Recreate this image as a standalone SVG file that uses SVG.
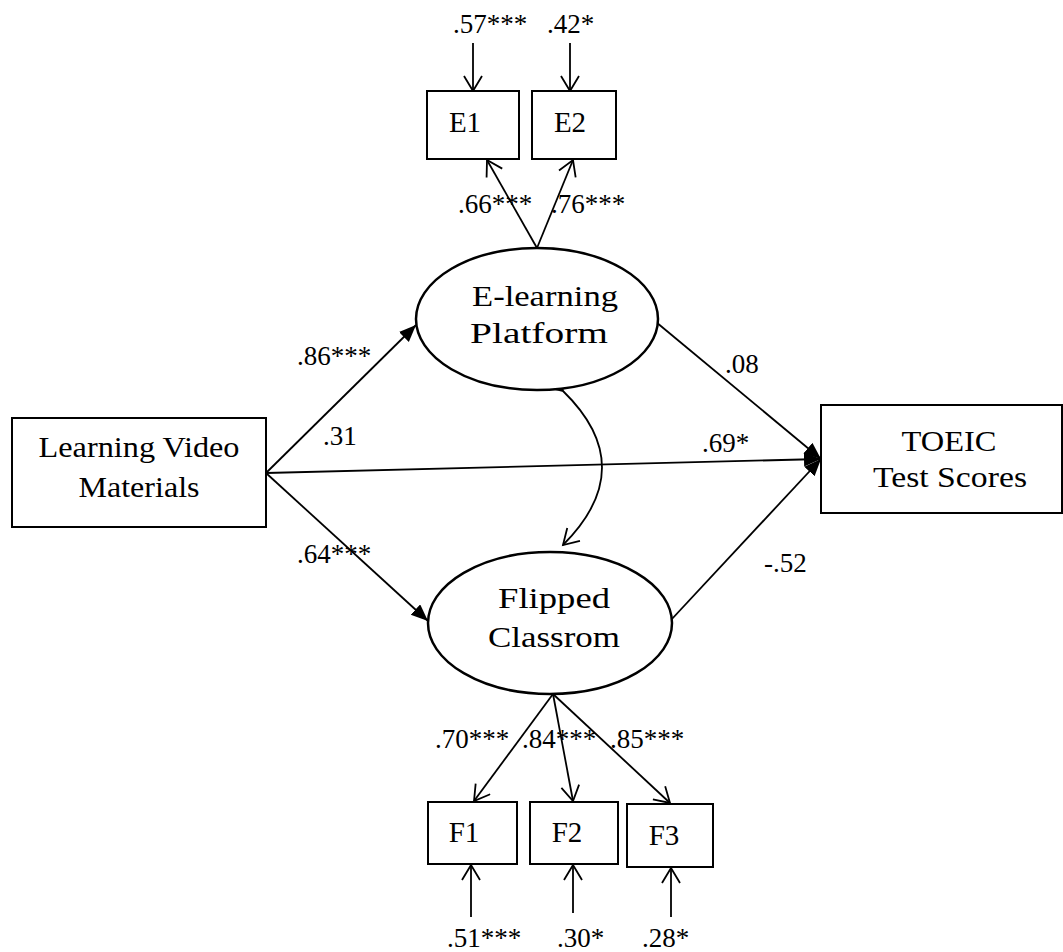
<svg xmlns="http://www.w3.org/2000/svg" width="1063" height="952" viewBox="0 0 1063 952">
  <style>
    .box { fill: #ffffff; stroke: #000000; stroke-width: 2; }
    .ell { fill: #ffffff; stroke: #000000; stroke-width: 2.5; }
    .lbl { font-family: "Liberation Serif", "Times New Roman", serif; font-size: 29px; fill: #000000; text-anchor: middle; }
    .num { font-family: "Liberation Serif", "Times New Roman", serif; font-size: 27px; fill: #000000; }
    .path { fill: none; stroke: #000000; stroke-width: 1.8; }
    .fpath { fill: none; stroke: #000000; stroke-width: 1.8; marker-end: url(#filled); }
    .opath { fill: none; stroke: #000000; stroke-width: 1.8; marker-end: url(#open); }
  </style>
  <defs>
    <marker id="filled" markerUnits="userSpaceOnUse" markerWidth="18" markerHeight="16" refX="17" refY="7" orient="auto">
      <path d="M0,0 L17,7 L0,14 Z" fill="#000000"/>
    </marker>
    <marker id="open" markerUnits="userSpaceOnUse" markerWidth="20" markerHeight="22" refX="16" refY="10" orient="auto">
      <path d="M1,1 L16,10 L1,19" fill="none" stroke="#000000" stroke-width="1.8"/>
    </marker>
  </defs>

  <rect width="1063" height="952" fill="#ffffff"/>

  <g id="connectors">
    <!-- error terms -->
    <line class="opath" x1="473" y1="43" x2="473" y2="91"/>
    <line class="opath" x1="570" y1="43" x2="570" y2="91"/>
    <line class="opath" x1="471" y1="917" x2="471" y2="865"/>
    <line class="opath" x1="573" y1="913" x2="573" y2="865"/>
    <line class="opath" x1="671" y1="917" x2="671" y2="868"/>
    <!-- loadings -->
    <line class="opath" x1="537" y1="248" x2="487" y2="160"/>
    <line class="opath" x1="537" y1="248" x2="573" y2="160"/>
    <line class="opath" x1="553" y1="694" x2="474" y2="801"/>
    <line class="opath" x1="553" y1="694" x2="573" y2="801"/>
    <line class="opath" x1="553" y1="694" x2="670" y2="803"/>
    <!-- structural paths -->
    <line class="fpath" x1="266" y1="473" x2="416" y2="325"/>
    <line class="fpath" x1="266" y1="473" x2="428" y2="621"/>
    <line class="fpath" x1="266" y1="473" x2="821" y2="459"/>
    <line class="fpath" x1="656" y1="322" x2="821" y2="459"/>
    <line class="fpath" x1="671" y1="620" x2="821" y2="459"/>
    <!-- covariance -->
    <path class="opath" d="M 563 391 Q 641 467 563 545" style="marker-start: url(#open)" />
  </g>

  <g id="LVM">
    <rect class="box" x="12" y="418" width="254" height="109"/>
    <text class="lbl" x="139" y="457" textLength="201" lengthAdjust="spacingAndGlyphs">Learning Video</text>
    <text class="lbl" x="139" y="497" textLength="121" lengthAdjust="spacingAndGlyphs">Materials</text>
  </g>

  <g id="TOEIC">
    <rect class="box" x="821" y="405" width="241" height="108"/>
    <text class="lbl" x="949" y="451" textLength="95" lengthAdjust="spacingAndGlyphs">TOEIC</text>
    <text class="lbl" x="950" y="487" textLength="154" lengthAdjust="spacingAndGlyphs">Test Scores</text>
  </g>

  <g id="Elearning">
    <ellipse class="ell" cx="537" cy="319" rx="121" ry="71"/>
    <text class="lbl" x="545" y="306" textLength="146" lengthAdjust="spacingAndGlyphs">E-learning</text>
    <text class="lbl" x="539" y="343" textLength="138" lengthAdjust="spacingAndGlyphs">Platform</text>
  </g>

  <g id="Flipped">
    <ellipse class="ell" cx="550" cy="623" rx="122" ry="71"/>
    <text class="lbl" x="554" y="608" textLength="112" lengthAdjust="spacingAndGlyphs">Flipped</text>
    <text class="lbl" x="554" y="647" textLength="132" lengthAdjust="spacingAndGlyphs">Classrom</text>
  </g>

  <g id="E1">
    <rect class="box" x="427" y="91" width="92" height="68"/>
    <text class="lbl" x="465" y="132">E1</text>
  </g>
  <g id="E2">
    <rect class="box" x="532" y="91" width="84" height="68"/>
    <text class="lbl" x="570" y="132">E2</text>
  </g>
  <g id="F1">
    <rect class="box" x="428" y="802" width="89" height="62"/>
    <text class="lbl" x="464" y="842">F1</text>
  </g>
  <g id="F2">
    <rect class="box" x="530" y="802" width="88" height="62"/>
    <text class="lbl" x="567" y="842">F2</text>
  </g>
  <g id="F3">
    <rect class="box" x="627" y="804" width="86" height="63"/>
    <text class="lbl" x="664" y="845">F3</text>
  </g>

  <g id="labels">
    <text class="num" x="453" y="33">.57***</text>
    <text class="num" x="547" y="33">.42*</text>
    <text class="num" x="458" y="213">.66***</text>
    <text class="num" x="551" y="213">.76***</text>
    <text class="num" x="297" y="365">.86***</text>
    <text class="num" x="323" y="445">.31</text>
    <text class="num" x="725" y="373">.08</text>
    <text class="num" x="702" y="452">.69*</text>
    <text class="num" x="297" y="563">.64***</text>
    <text class="num" x="764" y="572">-.52</text>
    <text class="num" x="435" y="748">.70***</text>
    <text class="num" x="522" y="748">.84***</text>
    <text class="num" x="610" y="748">.85***</text>
    <text class="num" x="447" y="947">.51***</text>
    <text class="num" x="557" y="947">.30*</text>
    <text class="num" x="642" y="947">.28*</text>
  </g>
</svg>
